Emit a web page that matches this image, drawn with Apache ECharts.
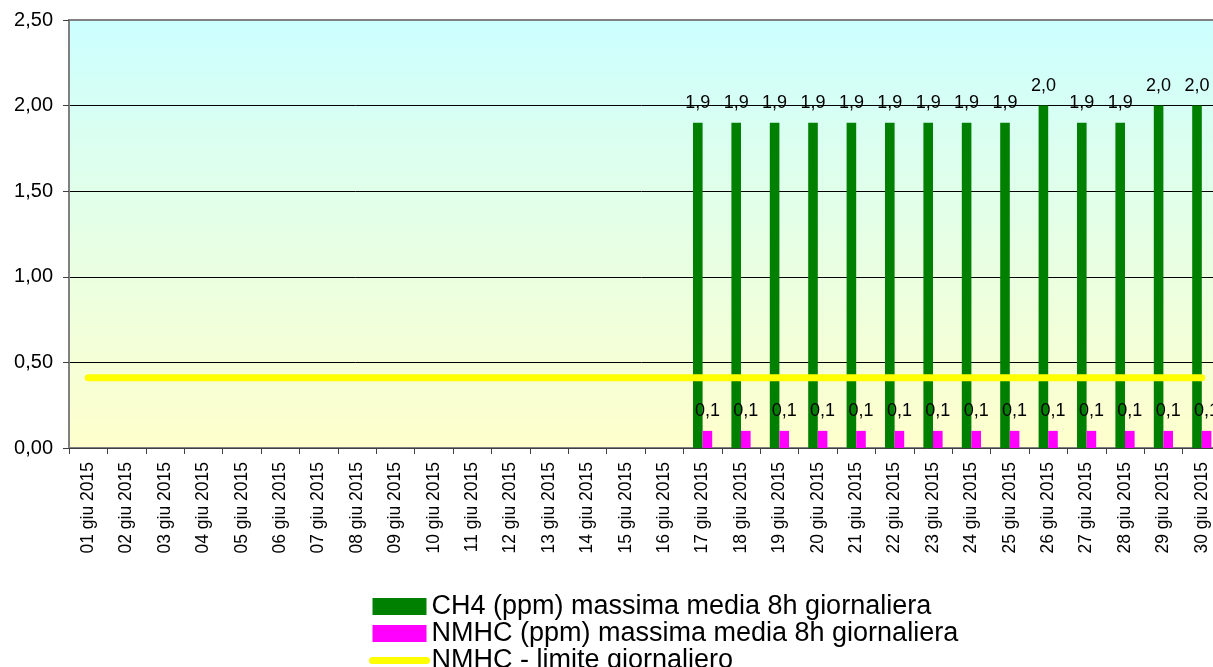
<!DOCTYPE html>
<html>
<head>
<meta charset="utf-8">
<script src="https://cdn.jsdelivr.net/npm/echarts@6/dist/echarts.min.js"></script>
<style>
html,body{margin:0;padding:0;background:#fff;}
#chart{width:1213px;height:667px;}
</style>
</head>
<body>
<div id="chart"></div>
<script>
var categories = ['01 giu 2015','02 giu 2015','03 giu 2015','04 giu 2015','05 giu 2015','06 giu 2015','07 giu 2015','08 giu 2015','09 giu 2015','10 giu 2015','11 giu 2015','12 giu 2015','13 giu 2015','14 giu 2015','15 giu 2015','16 giu 2015','17 giu 2015','18 giu 2015','19 giu 2015','20 giu 2015','21 giu 2015','22 giu 2015','23 giu 2015','24 giu 2015','25 giu 2015','26 giu 2015','27 giu 2015','28 giu 2015','29 giu 2015','30 giu 2015'];
var ch4 = [null,null,null,null,null,null,null,null,null,null,null,null,null,null,null,null,1.9,1.9,1.9,1.9,1.9,1.9,1.9,1.9,1.9,2.0,1.9,1.9,2.0,2.0];
var nmhc = [null,null,null,null,null,null,null,null,null,null,null,null,null,null,null,null,0.1,0.1,0.1,0.1,0.1,0.1,0.1,0.1,0.1,0.1,0.1,0.1,0.1,0.1];
var limite = [0.41,0.41,0.41,0.41,0.41,0.41,0.41,0.41,0.41,0.41,0.41,0.41,0.41,0.41,0.41,0.41,0.41,0.41,0.41,0.41,0.41,0.41,0.41,0.41,0.41,0.41,0.41,0.41,0.41,0.41];
var seriesNames = ['CH4 (ppm) massima media 8h giornaliera','NMHC (ppm) massima media 8h giornaliera','NMHC - limite giornaliero'];

var FONT = '"Liberation Sans", Arial, sans-serif';
function fmt1(p){ return (p.value == null) ? '' : p.value.toFixed(1).replace('.', ','); }

var chart = echarts.init(document.getElementById('chart'), null, {renderer:'canvas'});
chart.setOption({
  animation: false,
  textStyle: {fontFamily: FONT, color: '#000'},
  grid: {
    left: 69, top: 20, width: 1152, height: 428,
    containLabel: false,
    outerBoundsMode: 'none',
    show: true,
    borderColor: '#808080', borderWidth: 2,
    backgroundColor: new echarts.graphic.LinearGradient(0, 0, 0, 1, [
      {offset: 0, color: '#ccffff'},
      {offset: 1, color: '#ffffcc'}
    ])
  },
  legend: {
    orient: 'vertical',
    left: 369, top: 593, height: 200, padding: 0,
    itemWidth: 54, itemHeight: 17, itemGap: 0,
    lineStyle: {cap: 'round'},
    textStyle: {fontFamily: FONT, fontSize: 27, lineHeight: 26, color: '#000'},
    data: [
      {name: seriesNames[0], icon: 'rect'},
      {name: seriesNames[1], icon: 'rect'},
      {name: seriesNames[2], itemStyle: {opacity: 0, borderWidth: 0}, lineStyle: {width: 7, cap: 'round', color: '#ffff00'}}
    ]
  },
  xAxis: {
    type: 'category',
    data: categories,
    axisLine: {show: true, lineStyle: {color: '#404040', width: 1}},
    axisTick: {show: true, length: 6, lineStyle: {color: '#404040'}},
    axisLabel: {interval: 0, rotate: 90, fontSize: 17.5, margin: 14, color: '#000', fontFamily: FONT},
    splitLine: {show: false}
  },
  yAxis: {
    type: 'value',
    min: 0, max: 2.5, interval: 0.5,
    axisLine: {show: true, lineStyle: {color: '#808080', width: 2}},
    axisTick: {show: true, length: 6, lineStyle: {color: '#404040'}},
    axisLabel: {fontSize: 20, margin: 16, color: '#000', fontFamily: FONT,
      formatter: function(v){ return v.toFixed(2).replace('.', ','); }},
    splitLine: {show: true, showMinLine: false, showMaxLine: false, lineStyle: {color: '#000', width: 1}}
  },
  series: [
    {
      name: seriesNames[0], type: 'bar', data: ch4,
      barGap: '0%', barCategoryGap: '50%',
      itemStyle: {color: '#008000'},
      label: {show: true, position: 'top', distance: 11, fontSize: 18, color: '#000', fontFamily: FONT, formatter: fmt1}
    },
    {
      name: seriesNames[1], type: 'bar', data: nmhc,
      barGap: '0%', barCategoryGap: '50%',
      itemStyle: {color: '#ff00ff'},
      label: {show: true, position: 'top', distance: 11, fontSize: 18, color: '#000', fontFamily: FONT, formatter: fmt1}
    },
    {
      name: seriesNames[2], type: 'line', data: limite,
      showSymbol: false, symbol: 'none',
      itemStyle: {color: '#ffff00'},
      lineStyle: {color: '#ffff00', width: 7, cap: 'round'},
      z: 3
    }
  ]
});
</script>
</body>
</html>
